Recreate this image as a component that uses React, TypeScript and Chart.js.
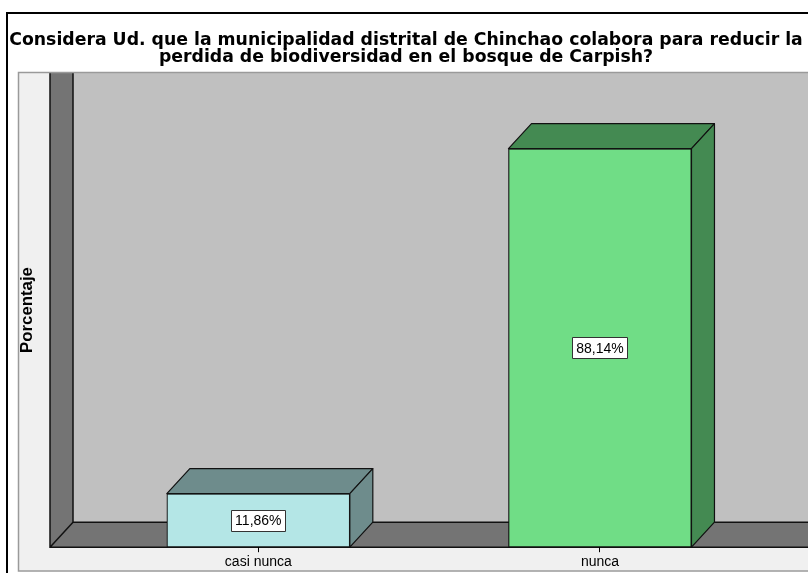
import React, { useEffect, useRef } from "react";
import { Chart, registerables } from "chart.js";

Chart.register(...registerables);

const titleLines = [
  "Considera Ud. que la municipalidad distrital de Chinchao colabora para reducir la",
  "perdida de biodiversidad en el bosque de Carpish?",
];
const yAxisTitle = "Porcentaje";
const categories = ["casi nunca", "nunca"];
const percentages = [11.86, 88.14];
const frontColors = ["#b4e6e6", "#70dd86"];
const sideColors = ["#6e8c8c", "#448a52"];

const FONT = "'Liberation Sans', Arial, Helvetica, sans-serif";
const TITLE_FONT = "'DejaVu Sans', 'Liberation Sans', Arial, sans-serif";
const DX = 23;
const DY = 25;

const fmt = (v: number) => v.toFixed(2).replace(".", ",") + "%";

const spss3d = {
  id: "spss3d",
  beforeDraw(chart: any) {
    const { ctx, chartArea: ca, width, height } = chart;
    ctx.save();
    ctx.fillStyle = "#ffffff";
    ctx.fillRect(0, 0, width, height);

    // outer frame
    ctx.strokeStyle = "#000000";
    ctx.lineWidth = 2;
    ctx.strokeRect(7, 13, width + 40, height + 40);

    // panel
    const panelTop = 72;
    const panelBottom = 570.5;
    ctx.fillStyle = "#f0f0f0";
    ctx.fillRect(18, panelTop, width, panelBottom - panelTop);

    const frontY = ca.bottom;
    const backY = frontY - DY;
    const wallX = 50;
    const wallBackX = wallX + DX;

    // back wall
    ctx.fillStyle = "#c0c0c0";
    ctx.fillRect(wallBackX, panelTop, width, backY - panelTop);

    // left wall
    ctx.fillStyle = "#747474";
    ctx.beginPath();
    ctx.moveTo(wallX, panelTop);
    ctx.lineTo(wallBackX, panelTop);
    ctx.lineTo(wallBackX, backY);
    ctx.lineTo(wallX, frontY);
    ctx.closePath();
    ctx.fill();

    // floor
    ctx.beginPath();
    ctx.moveTo(wallX, frontY);
    ctx.lineTo(wallBackX, backY);
    ctx.lineTo(width + 5, backY);
    ctx.lineTo(width + 5, frontY);
    ctx.closePath();
    ctx.fill();

    ctx.strokeStyle = "#111111";
    ctx.lineWidth = 1.5;
    ctx.beginPath();
    ctx.moveTo(wallX, panelTop);
    ctx.lineTo(wallX, frontY);
    ctx.lineTo(width + 5, frontY);
    ctx.moveTo(wallBackX, panelTop);
    ctx.lineTo(wallBackX, backY);
    ctx.lineTo(width + 5, backY);
    ctx.moveTo(wallX, frontY);
    ctx.lineTo(wallBackX, backY);
    ctx.stroke();

    // panel border
    ctx.strokeStyle = "#9a9a9a";
    ctx.lineWidth = 1.5;
    ctx.strokeRect(18.5, panelTop + 0.5, width + 20, panelBottom - panelTop);

    // y axis title
    ctx.translate(27, 310);
    ctx.rotate(-Math.PI / 2);
    ctx.fillStyle = "#000000";
    ctx.font = `bold 16.8px ${FONT}`;
    ctx.textAlign = "center";
    ctx.textBaseline = "middle";
    ctx.fillText(yAxisTitle, 0, 0);
    ctx.restore();
  },
  afterDatasetsDraw(chart: any) {
    const { ctx } = chart;
    const meta = chart.getDatasetMeta(0);
    const values = chart.data.datasets[0].data as number[];
    ctx.save();
    meta.data.forEach((bar: any, i: number) => {
      const { x, y, base, width: w } = bar.getProps(["x", "y", "base", "width"], true);
      const left = x - w / 2;
      const right = x + w / 2;
      ctx.fillStyle = sideColors[i];
      ctx.strokeStyle = "#111111";
      ctx.lineWidth = 1.2;
      ctx.lineJoin = "round";
      // top face
      ctx.beginPath();
      ctx.moveTo(left, y);
      ctx.lineTo(left + DX, y - DY);
      ctx.lineTo(right + DX, y - DY);
      ctx.lineTo(right, y);
      ctx.closePath();
      ctx.fill();
      ctx.stroke();
      // side face
      ctx.beginPath();
      ctx.moveTo(right, y);
      ctx.lineTo(right + DX, y - DY);
      ctx.lineTo(right + DX, base - DY);
      ctx.lineTo(right, base);
      ctx.closePath();
      ctx.fill();
      ctx.stroke();

      // value label box
      const text = fmt(values[i]);
      ctx.font = `14px ${FONT}`;
      const tw = ctx.measureText(text).width;
      const bw = Math.round(tw + 8);
      const bh = 21;
      const cy = (y + base) / 2;
      const bx = Math.round(x - bw / 2) + 0.5;
      const by = Math.round(cy - bh / 2) + 0.5;
      ctx.fillStyle = "#ffffff";
      ctx.fillRect(bx, by, bw, bh);
      ctx.strokeStyle = "#333333";
      ctx.lineWidth = 1;
      ctx.strokeRect(bx, by, bw, bh);
      ctx.fillStyle = "#000000";
      ctx.textAlign = "center";
      ctx.textBaseline = "middle";
      ctx.fillText(text, x, cy + 1);
    });
    ctx.restore();
  },
};

export default function App() {
  const ref = useRef<HTMLCanvasElement | null>(null);
  useEffect(() => {
    if (!ref.current) return;
    const chart = new Chart(ref.current, {
      type: "bar",
      data: {
        labels: categories,
        datasets: [
          {
            data: percentages,
            backgroundColor: frontColors,
            borderColor: "#111111",
            borderWidth: 1.2,
            borderSkipped: false,
            barThickness: 183,
          },
        ],
      },
      options: {
        responsive: false,
        devicePixelRatio: 1,
        animation: false,
        layout: { padding: { left: 4, right: 0, top: 0, bottom: 0 } },
        plugins: {
          legend: { display: false },
          tooltip: { enabled: false },
          title: {
            display: true,
            text: titleLines,
            color: "#000000",
            font: { family: TITLE_FONT, size: 17.3, weight: "bold", lineHeight: "17.5px" },
            padding: { top: 31.5, bottom: 28.5 },
          },
        },
        scales: {
          x: {
            type: "category",
            offset: true,
            grid: {
              display: true,
              offset: false,
              drawOnChartArea: false,
              drawTicks: true,
              tickLength: 5,
              color: "#000000",
              lineWidth: 1,
            },
            border: { display: false },
            ticks: {
              color: "#000000",
              padding: 2,
              font: { family: FONT, size: 14 },
            },
          },
          y: {
            type: "linear",
            position: "left",
            min: 0,
            max: 100,
            ticks: { display: false },
            grid: { display: false },
            border: { display: false },
            afterFit: (s: any) => {
              s.width = 83.5;
            },
          },
          y2: {
            type: "linear",
            position: "right",
            min: 0,
            max: 100,
            ticks: { display: false },
            grid: { display: false },
            border: { display: false },
            afterFit: (s: any) => {
              s.width = 37.2;
            },
          },
        },
      },
      plugins: [spss3d],
    } as any);
    return () => chart.destroy();
  }, []);
  return (
    <div style={{ position: "absolute", left: 0, top: 0, width: 808, height: 573 }}>
      <canvas ref={ref} width={808} height={573} style={{ width: 808, height: 573, display: "block" }} />
    </div>
  );
}
